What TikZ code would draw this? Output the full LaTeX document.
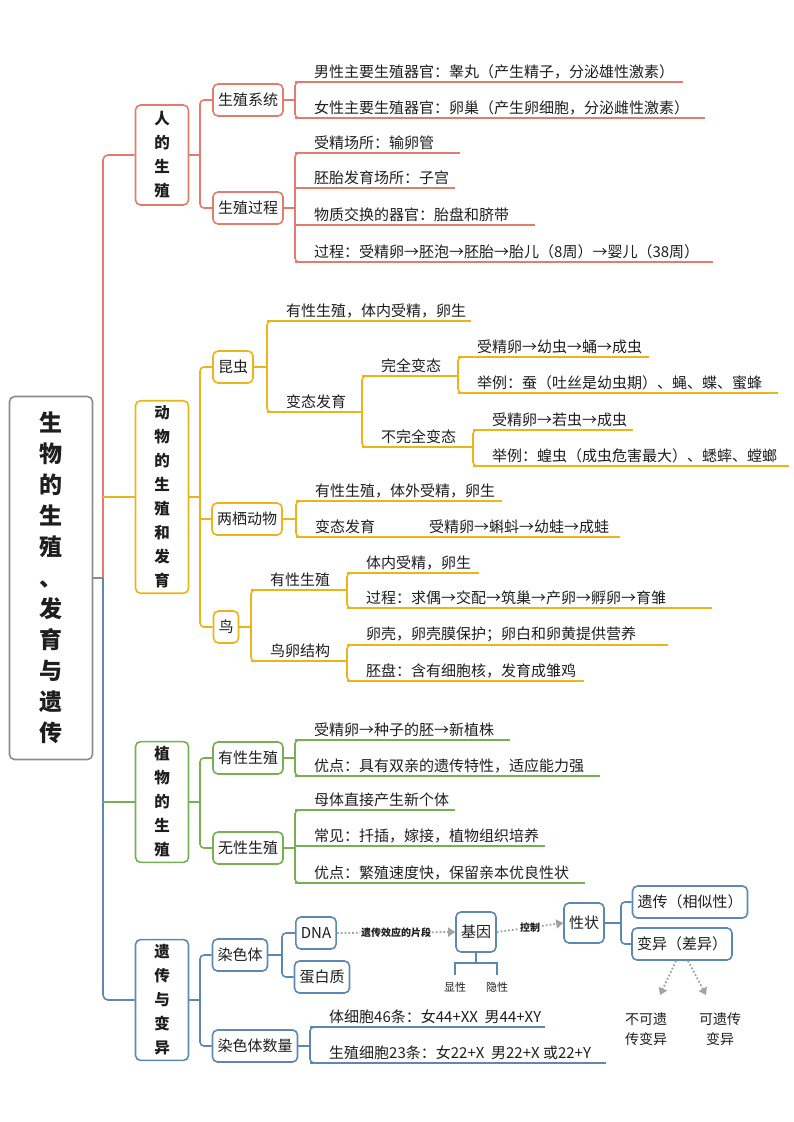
\documentclass[tikz,border=0pt]{standalone}
\usepackage{fontspec}
\setmainfont{Noto Sans CJK SC}
\usepackage{tikz}
\usetikzlibrary{arrows.meta}

\definecolor{hum}{RGB}{226,124,112}
\definecolor{ani}{RGB}{236,180,24}
\definecolor{pla}{RGB}{118,176,82}
\definecolor{gen}{RGB}{92,136,180}
\definecolor{rootc}{RGB}{140,140,140}
\definecolor{txt}{RGB}{30,30,30}
\def\sc{hum}

\tikzset{
  line/.style={draw=\sc,line width=1.6pt},
  leaf/.style={anchor=south west,inner sep=3pt,text=txt,font=\fontsize{15}{17}\selectfont},
  box/.style={draw=\sc,line width=1.6pt,rounded corners=5pt,fill=white,text=txt,
    font=\fontsize{15}{17}\selectfont,inner sep=5pt,minimum height=32pt},
  vbox/.style={box,align=center,minimum width=53pt,font=\bfseries\fontsize{15.5}{24}\selectfont},
  tag/.style={text=txt,font=\fontsize{14}{20}\selectfont,align=center},
  dots/.style={draw=rootc!80,line width=1.8pt,dotted,-{Triangle[length=7pt,width=9pt]}},
}

% leaf: name, bracket x, underline y, end x, text
\newcommand{\leaf}[5]{%
  \node[leaf] (#1) at (#2+16,#3) {#5};
  \draw[line] (#2,#3) -- (#4,#3);}
% bracket: x, top y, bottom y
\newcommand{\brk}[3]{%
  \draw[line,rounded corners=4pt] (#1+10,#2) -- (#1,#2) -- (#1,#3) -- (#1+10,#3);}

\begin{document}
\begin{tikzpicture}[x=1pt,y=-1pt]
    \useasboundingbox (0,0) rectangle (793,1122);
    
    % 根
    \node[box,draw=rootc,align=center,minimum width=83pt,minimum height=363pt,
      font=\bfseries\fontsize{23}{31}\selectfont] (root) at (51,578)
      {生\\物\\的\\生\\殖\\、\\发\\育\\与\\遗\\传};
    
    % 人的生殖
    \def\sc{hum}
    \node[vbox,minimum height=100pt] (hr) at (162,155) {人\\的\\生\\殖};
    \node[box] (sys) at (248,100) {生殖系统};
    \node[box] (proc) at (248,208) {生殖过程};
    \draw[line,rounded corners=4pt] (sys.west) -| (200,155) |- (proc.west);
    \draw[line] (hr.east) -- (200,155);
    \brk{295}{82}{118}
    \draw[line] (sys.east) -- (295,100);
    \leaf{m1}{295}{82}{683}{男性主要生殖器官：睾丸（产生精子，分泌雄性激素）}
    \leaf{m2}{295}{118}{705}{女性主要生殖器官：卵巢（产生卵细胞，分泌雌性激素）}
    \brk{295}{153}{262}
    \draw[line] (proc.east) -- (295,208);
    \leaf{p1}{295}{153}{460}{受精场所：输卵管}
    \leaf{p2}{295}{188}{455}{胚胎发育场所：子宫}
    \leaf{p3}{295}{225}{535}{物质交换的器官：胎盘和脐带}
    \leaf{p4}{295}{262}{713}{过程：受精卵→胚泡→胚胎→胎儿（8周）→婴儿（38周）}
    
    % 动物的生殖和发育
    \def\sc{ani}
    \node[vbox,minimum height=179pt] (ar) at (162,497) {动\\物\\的\\生\\殖\\和\\发\\育};
    \node[box] (ins) at (233,367) {昆虫};
    \node[box] (amp) at (247,519) {两栖动物};
    \node[box] (bird) at (226,627) {鸟};
    \draw[line,rounded corners=4pt] (ins.west) -| (200,497) |- (bird.west);
    \draw[line] (amp.west) -- (200,519);
    \draw[line] (ar.east) -- (200,497);
    \brk{267}{321}{412}
    \draw[line] (ins.east) -- (267,367);
    \leaf{i1}{267}{321}{471}{有性生殖，体内受精，卵生}
    \leaf{i2}{267}{412}{362}{变态发育}
    \brk{362}{376}{447}
    \leaf{c0}{362}{376}{458}{完全变态}
    \leaf{n0}{362}{447}{473}{不完全变态}
    \brk{458}{357}{393}
    \leaf{c1}{458}{357}{649}{受精卵→幼虫→蛹→成虫}
    \leaf{c2}{458}{393}{778}{举例：蚕（吐丝是幼虫期）、蝇、蝶、蜜蜂}
    \brk{473}{430}{466}
    \leaf{n1}{473}{430}{633}{受精卵→若虫→成虫}
    \leaf{n2}{473}{466}{789}{举例：蝗虫（成虫危害最大）、蟋蟀、螳螂}
    \brk{296}{501}{537}
    \draw[line] (amp.east) -- (296,519);
    \leaf{a1}{296}{501}{502}{有性生殖，体外受精，卵生}
    \leaf{a2}{296}{537}{620}{变态发育}
    \node[leaf] (a3) at (426,537) {受精卵→蝌蚪→幼蛙→成蛙};
    \brk{251}{590}{661}
    \draw[line] (bird.east) -- (251,627);
    \leaf{b1}{251}{590}{347}{有性生殖}
    \leaf{b2}{251}{661}{347}{鸟卵结构}
    \brk{347}{573}{608}
    \leaf{b3}{347}{573}{479}{体内受精，卵生}
    \leaf{b4}{347}{608}{712}{过程：求偶→交配→筑巢→产卵→孵卵→育雏}
    \brk{347}{645}{681}
    \leaf{b5}{347}{645}{668}{卵壳，卵壳膜保护；卵白和卵黄提供营养}
    \leaf{b6}{347}{681}{584}{胚盘：含有细胞核，发育成雏鸡}
    
    % 植物的生殖
    \def\sc{pla}
    \node[vbox,minimum height=117pt] (pr) at (162,802) {植\\物\\的\\生\\殖};
    \node[box] (sex) at (248,758) {有性生殖};
    \node[box] (asex) at (248,848) {无性生殖};
    \draw[line,rounded corners=4pt] (sex.west) -| (200,802) |- (asex.west);
    \draw[line] (pr.east) -- (200,802);
    \brk{295}{740}{776}
    \draw[line] (sex.east) -- (295,758);
    \leaf{s1}{295}{740}{510}{受精卵→种子的胚→新植株}
    \leaf{s2}{295}{776}{600}{优点：具有双亲的遗传特性，适应能力强}
    \brk{295}{810}{883}
    \draw[line] (asex.east) -- (295,848);
    \leaf{x1}{295}{810}{455}{母体直接产生新个体}
    \leaf{x2}{295}{846}{545}{常见：扦插，嫁接，植物组织培养}
    \leaf{x3}{295}{883}{585}{优点：繁殖速度快，保留亲本优良性状}
    
    % 遗传与变异
    \def\sc{gen}
    \node[vbox,minimum height=120pt] (gr) at (162,1000) {遗\\传\\与\\变\\异};
    \node[box] (chr) at (240,955) {染色体};
    \node[box] (num) at (255,1046) {染色体数量};
    \draw[line,rounded corners=4pt] (chr.west) -| (200,1000) |- (num.west);
    \draw[line] (gr.east) -- (200,1000);
    \node[box] (dna) at (316,933) {DNA};
    \node[box] (prot) at (322,977) {蛋白质};
    \draw[line,rounded corners=4pt] (dna.west) -| (282,955) |- (prot.west);
    \draw[line] (chr.east) -- (282,955);
    \node[box,minimum height=40pt] (gene) at (476,932) {基因};
    \draw[dots] (dna.east) -- node[fill=white,inner sep=1pt,text=txt,
      font=\bfseries\fontsize{10}{12}\selectfont] {遗传效应的片段} (gene.west);
    \node[box,minimum height=40pt] (trait) at (584,923) {性状};
    \draw[dots] (gene.east) -- node[fill=white,inner sep=1pt,text=txt,
      font=\bfseries\fontsize{10}{12}\selectfont] {控制} (trait.west);
    \coordinate (dom) at (455,975);
    \coordinate (rec) at (497,975);
    \draw[line] (gene.south) -- (476,963) -| (dom);
    \draw[line] (476,963) -| (rec);
    \node[tag,font=\fontsize{11}{13}\selectfont] (domt) at (455,987) {显性};
    \node[tag,font=\fontsize{11}{13}\selectfont] (rect) at (497,987) {隐性};
    \node[box] (her) at (690,902) {遗传（相似性）};
    \node[box] (var) at (682,944) {变异（差异）};
    \draw[line,rounded corners=4pt] (her.west) -| (621,923) |- (var.west);
    \draw[line] (trait.east) -- (621,923);
    \node[tag] (nh) at (646,1029) {不可遗\\传变异};
    \node[tag] (hh) at (720,1029) {可遗传\\变异};
    \draw[dots] ([xshift=-6pt]var.south) -- (660,995);
    \draw[dots] ([xshift=6pt]var.south) -- (706,995);
    \brk{310}{1027}{1063}
    \draw[line] (num.east) -- (310,1046);
    \leaf{k1}{310}{1027}{545}{体细胞46条：女44+XX\ \ 男44+XY}
    \leaf{k2}{310}{1063}{606}{生殖细胞23条：女22+X\ \ 男22+X 或22+Y}
    
    % 主干
    \def\sc{hum}
    \draw[line,rounded corners=5pt] (hr.west) -| (103,578);
    \def\sc{gen}
    \draw[line,rounded corners=5pt] (103,578) |- (gr.west);
    \def\sc{ani}
    \draw[line] (ar.west) -- (103,497);
    \def\sc{pla}
    \draw[line] (pr.west) -- (103,802);
    \def\sc{rootc}
    \draw[line] (root.east) -- (103,578);
\end{tikzpicture}
\end{document}
